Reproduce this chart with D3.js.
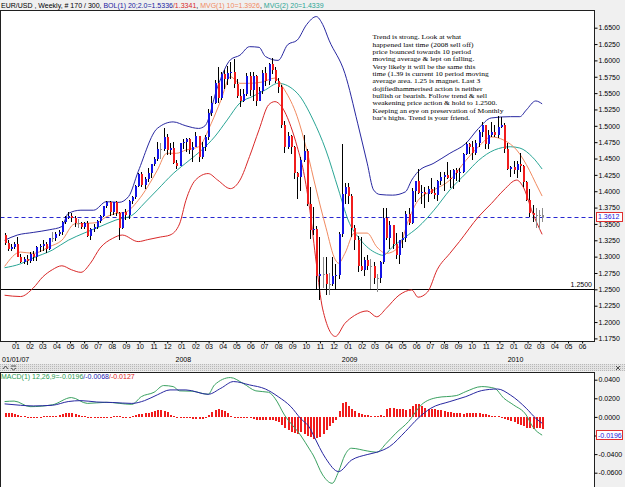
<!DOCTYPE html>
<html>
<head>
<meta charset="utf-8">
<script src="https://cdn.jsdelivr.net/npm/d3@7"></script>
<style>
  body { margin: 0; background: #f0f0f0; }
  svg { display: block; font-family: "Liberation Sans", Arial, sans-serif; }
</style>
</head>
<body>
<svg id="chart" width="625" height="487"></svg>
<script>
// EUR/USD weekly candles, Dec 2006 - Mar 2010
const firstBarDate = new Date(2006, 11, 8);   // friday of first weekly bar

const open = [1.3330,1.3210,1.3120,1.3150,1.3200,1.3000,1.2920,1.2960,1.2940,1.3040,
  1.3000,1.3140,1.3170,1.3190,1.3120,1.3280,1.3290,1.3350,1.3370,1.3530,
  1.3590,1.3620,1.3590,1.3510,1.3520,1.3450,1.3510,1.3320,1.3420,1.3460,
  1.3540,1.3620,1.3780,1.3830,1.3680,1.3830,1.3670,1.3440,1.3690,1.3640,
  1.3850,1.3910,1.4080,1.4260,1.4100,1.4180,1.4280,1.4410,1.4500,1.4640,
  1.4640,1.4830,1.4630,1.4660,1.4430,1.4390,1.4730,1.4750,1.4800,1.4630,
  1.4680,1.4840,1.4520,1.4680,1.4830,1.5190,1.5350,1.5660,1.5420,1.5790,
  1.5720,1.5810,1.5830,1.5640,1.5460,1.5380,1.5490,1.5760,1.5550,1.5760,
  1.5380,1.5530,1.5800,1.5690,1.5950,1.5860,1.5690,1.5590,1.5010,1.4680,
  1.4840,1.4680,1.4280,1.4220,1.4470,1.4620,1.3800,1.3400,1.3420,1.2700,
  1.2730,1.2740,1.2580,1.2580,1.2700,1.2720,1.3350,1.3960,1.4060,1.3920,
  1.3440,1.3260,1.2850,1.2800,1.2950,1.2860,1.2850,1.2670,1.2670,1.2920,
  1.3590,1.3290,1.3480,1.3190,1.3030,1.3250,1.3280,1.3650,1.3520,1.4000,
  1.4150,1.3970,1.3990,1.3950,1.4030,1.3970,1.3940,1.4150,1.4210,1.4250,
  1.4200,1.4180,1.4330,1.4280,1.4300,1.4570,1.4720,1.4680,1.4580,1.4730,
  1.4900,1.5010,1.4720,1.4860,1.4910,1.4860,1.4980,1.5010,1.4650,1.4340,
  1.4370,1.4320,1.4410,1.4380,1.4140,1.3860,1.3670,1.3630,1.3620,1.3630];
const high = [1.3367,1.3260,1.3200,1.3230,1.3300,1.3040,1.2990,1.3020,1.3070,1.3090,
  1.3160,1.3200,1.3250,1.3220,1.3290,1.3370,1.3370,1.3400,1.3540,1.3620,
  1.3680,1.3660,1.3620,1.3580,1.3530,1.3530,1.3540,1.3440,1.3500,1.3560,
  1.3640,1.3780,1.3850,1.3850,1.3840,1.3850,1.3690,1.3690,1.3730,1.3870,
  1.3930,1.4100,1.4280,1.4290,1.4210,1.4350,1.4420,1.4530,1.4750,1.4730,
  1.4966,1.4880,1.4740,1.4760,1.4470,1.4740,1.4800,1.4810,1.4820,1.4760,
  1.4900,1.4850,1.4750,1.4860,1.5250,1.5460,1.5700,1.5900,1.5820,1.5850,
  1.5910,1.5980,1.6019,1.5720,1.5560,1.5560,1.5810,1.5820,1.5820,1.5780,
  1.5600,1.5860,1.5900,1.5960,1.6038,1.5900,1.5730,1.5620,1.5080,1.4900,
  1.4860,1.4690,1.4300,1.4520,1.4867,1.4640,1.4060,1.3760,1.3470,1.3300,
  1.3000,1.2990,1.2750,1.3000,1.2890,1.3380,1.4720,1.4130,1.4120,1.3960,
  1.3490,1.3320,1.3300,1.3000,1.3020,1.2960,1.2920,1.2740,1.2940,1.3740,
  1.3740,1.3550,1.3480,1.3360,1.3250,1.3380,1.3700,1.3740,1.4050,1.4160,
  1.4340,1.4100,1.4070,1.4080,1.4200,1.4070,1.4170,1.4290,1.4290,1.4440,
  1.4330,1.4340,1.4350,1.4350,1.4590,1.4760,1.4740,1.4770,1.4790,1.4940,
  1.5060,1.5020,1.4940,1.5060,1.5020,1.5144,1.5140,1.5040,1.4730,1.4390,
  1.4460,1.4460,1.4580,1.4400,1.4160,1.4040,1.3790,1.3750,1.3720,1.3740];
const low = [1.3180,1.3090,1.3080,1.3110,1.2990,1.2900,1.2880,1.2866,1.2910,1.2930,
  1.2940,1.3070,1.3090,1.3050,1.3100,1.3230,1.3240,1.3310,1.3330,1.3500,
  1.3580,1.3530,1.3460,1.3440,1.3430,1.3420,1.3300,1.3260,1.3380,1.3420,
  1.3510,1.3610,1.3740,1.3620,1.3640,1.3620,1.3260,1.3420,1.3560,1.3580,
  1.3800,1.3880,1.4060,1.4070,1.4030,1.4140,1.4200,1.4380,1.4460,1.4500,
  1.4620,1.4560,1.4560,1.4420,1.4340,1.4380,1.4640,1.4600,1.4570,1.4450,
  1.4680,1.4440,1.4500,1.4610,1.4780,1.5150,1.5330,1.5350,1.5400,1.5570,
  1.5630,1.5720,1.5580,1.5430,1.5290,1.5370,1.5450,1.5460,1.5380,1.5300,
  1.5380,1.5480,1.5610,1.5630,1.5790,1.5650,1.5500,1.4960,1.4580,1.4640,
  1.4570,1.4190,1.3880,1.4000,1.4450,1.3780,1.3270,1.3330,1.2500,1.2330,
  1.2520,1.2420,1.2420,1.2550,1.2490,1.2660,1.3300,1.3810,1.3800,1.3300,
  1.3100,1.2760,1.2780,1.2710,1.2790,1.2510,1.2580,1.2456,1.2600,1.2880,
  1.3260,1.3110,1.3120,1.2970,1.2890,1.3130,1.3230,1.3480,1.3500,1.3830,
  1.3950,1.3810,1.3750,1.3830,1.3960,1.3880,1.3850,1.4100,1.4010,1.4180,
  1.4050,1.4040,1.4150,1.4140,1.4280,1.4550,1.4570,1.4480,1.4560,1.4670,
  1.4830,1.4640,1.4650,1.4830,1.4830,1.4820,1.4960,1.4580,1.4320,1.4220,
  1.4260,1.4200,1.4300,1.4060,1.3850,1.3600,1.3530,1.3440,1.3430,1.3530];
const close = [1.3210,1.3120,1.3150,1.3200,1.3000,1.2920,1.2960,1.2940,1.3040,1.3000,
  1.3140,1.3170,1.3190,1.3120,1.3280,1.3290,1.3350,1.3370,1.3530,1.3590,
  1.3620,1.3590,1.3510,1.3520,1.3450,1.3510,1.3320,1.3420,1.3460,1.3540,
  1.3620,1.3780,1.3830,1.3680,1.3830,1.3670,1.3440,1.3690,1.3640,1.3850,
  1.3910,1.4080,1.4260,1.4100,1.4180,1.4280,1.4410,1.4500,1.4640,1.4640,
  1.4830,1.4630,1.4660,1.4430,1.4390,1.4730,1.4750,1.4800,1.4630,1.4680,
  1.4840,1.4520,1.4680,1.4830,1.5190,1.5350,1.5660,1.5420,1.5790,1.5720,
  1.5810,1.5830,1.5640,1.5460,1.5380,1.5490,1.5760,1.5550,1.5760,1.5380,
  1.5530,1.5800,1.5690,1.5950,1.5860,1.5690,1.5590,1.5010,1.4680,1.4840,
  1.4680,1.4280,1.4220,1.4470,1.4620,1.3800,1.3400,1.3420,1.2700,1.2730,
  1.2740,1.2580,1.2580,1.2700,1.2720,1.3350,1.3960,1.4060,1.3920,1.3440,
  1.3260,1.2850,1.2800,1.2950,1.2860,1.2850,1.2670,1.2670,1.2920,1.3590,
  1.3290,1.3480,1.3190,1.3030,1.3250,1.3280,1.3650,1.3520,1.4000,1.4150,
  1.3970,1.3990,1.3950,1.4030,1.3970,1.3940,1.4150,1.4210,1.4250,1.4200,
  1.4180,1.4330,1.4280,1.4300,1.4570,1.4720,1.4680,1.4580,1.4730,1.4900,
  1.5010,1.4720,1.4860,1.4910,1.4860,1.4980,1.5010,1.4650,1.4340,1.4370,
  1.4320,1.4410,1.4380,1.4140,1.3860,1.3670,1.3630,1.3620,1.3630,1.3612];

// indicator lines, [bar index, value]
const bbUpper = [[0,1.325],[4,1.333],[9,1.337],[14,1.341],[18,1.346],[20,1.366],[24,1.371],[28,1.371],
  [32,1.384],[36,1.383],[39,1.392],[42,1.43],[48,1.496],[53,1.506],[57,1.50],[61,1.496],[63,1.50],
  [67,1.56],[71,1.601],[74,1.608],[77,1.621],[80,1.62],[82,1.606],[86,1.60],[89,1.624],[92,1.631],
  [95,1.655],[98,1.667],[100,1.655],[102,1.631],[107,1.58],[111,1.504],[114,1.443],[116,1.402],
  [118,1.395],[122,1.394],[126,1.399],[128,1.417],[130,1.43],[135,1.443],[140,1.458],[145,1.473],
  [149,1.496],[153,1.512],[159,1.514],[162,1.514],[164,1.524],[167,1.538],[169,1.5336]];
const bbLower = [[0,1.241],[5,1.239],[9,1.252],[12,1.269],[15,1.28],[18,1.286],[21,1.28],[24,1.276],
  [27,1.29],[30,1.313],[34,1.328],[37,1.333],[42,1.323],[45,1.326],[49,1.33],[52,1.333],[55,1.35],
  [57,1.386],[60,1.417],[64,1.427],[67,1.417],[71,1.404],[74,1.417],[77,1.453],[80,1.494],[83,1.532],
  [85,1.537],[87,1.53],[90,1.499],[92,1.468],[94,1.43],[96,1.37],[98,1.29],[100,1.22],[104,1.178],
  [107,1.198],[110,1.21],[114,1.217],[117,1.208],[120,1.221],[124,1.241],[128,1.249],[130,1.238],
  [133,1.246],[136,1.28],[140,1.305],[143,1.323],[149,1.361],[153,1.381],[157,1.402],[161,1.417],
  [163,1.407],[166,1.367],[169,1.3341]];
const ma10 = [[0,1.285],[5,1.307],[9,1.305],[14,1.315],[18,1.325],[22,1.35],[26,1.351],[29,1.352],
  [32,1.361],[35,1.366],[38,1.368],[42,1.386],[45,1.407],[48,1.432],[51,1.458],[54,1.458],[57,1.463],
  [61,1.468],[65,1.504],[68,1.539],[71,1.575],[74,1.565],[77,1.565],[81,1.567],[85,1.573],[88,1.555],
  [92,1.514],[95,1.463],[98,1.402],[101,1.345],[104,1.295],[105,1.29],[107,1.305],[110,1.336],
  [114,1.336],[117,1.315],[120,1.305],[124,1.315],[127,1.356],[130,1.386],[135,1.402],[140,1.417],
  [145,1.447],[149,1.468],[153,1.483],[157,1.478],[161,1.463],[165,1.432],[167,1.412],[169,1.3926]];
const ma20 = [[0,1.283],[5,1.289],[9,1.298],[15,1.31],[20,1.325],[25,1.336],[30,1.346],[35,1.356],
  [40,1.363],[44,1.382],[48,1.402],[53,1.427],[58,1.447],[62,1.463],[66,1.483],[70,1.509],[74,1.535],
  [78,1.545],[82,1.555],[86,1.565],[92,1.55],[97,1.509],[101,1.463],[105,1.402],[108,1.356],
  [112,1.325],[117,1.305],[119,1.302],[122,1.315],[126,1.33],[130,1.345],[135,1.371],[140,1.402],
  [145,1.427],[149,1.447],[154,1.463],[159,1.468],[162,1.466],[166,1.452],[169,1.4339]];

// MACD(12,26,9)
const macdLine = [[0,0.0165],[3,0.017],[8,0.011],[15,0.013],[21,0.0208],[26,0.0145],[32,0.0157],
  [40,0.0135],[43,0.0218],[47,0.0265],[50,0.0337],[53,0.0326],[55,0.028],[59,0.0276],[64,0.0243],
  [66,0.0344],[71,0.0423],[75,0.036],[79,0.028],[83,0.0265],[85,0.02],[88,0.002],[93,-0.0194],
  [96,-0.0355],[97,-0.041],[100,-0.0624],[103,-0.0714],[105,-0.0588],[107,-0.041],[109,-0.0337],
  [114,-0.0366],[117,-0.038],[120,-0.0284],[123,-0.0176],[127,-0.005],[131,0.0129],[136,0.0208],
  [142,0.0229],[145,0.0272],[150,0.0326],[154,0.0308],[157,0.02],[160,0.0129],[164,0.002],
  [166,-0.0104],[169,-0.0196]];
const signalLine = [[0,0.014],[5,0.0125],[9,0.0118],[15,0.0125],[20,0.0165],[24,0.0175],[29,0.016],
  [34,0.0155],[40,0.0145],[44,0.0175],[48,0.0237],[52,0.029],[57,0.029],[64,0.0243],[68,0.0308],
  [72,0.038],[77,0.0344],[82,0.030],[86,0.0218],[90,0.011],[93,-0.0015],[96,-0.0122],[97,-0.019],
  [101,-0.0448],[105,-0.0588],[109,-0.0466],[114,-0.0405],[117,-0.038],[121,-0.032],[126,-0.0158],
  [130,-0.0015],[134,0.0093],[140,0.0165],[145,0.0218],[150,0.0283],[155,0.030],[159,0.0236],
  [164,0.0093],[167,-0.0015],[169,-0.0068]];
// histogram, in thousandths
const macdHist = [4,4.5,4,3.5,2.5, 1.5,0.5,-0.5,-1,-1.2,-1,-0.5, 0.5,1,1.5,1.5,1.5,2, 3,4,4.5,4.5,3.5,
  2.5,1.5,0.5,-0.5, -1,-1.5,-1.5,-1,-1,-0.5,-0.5, 0.5,1,0.5,0.2,-0.5,-1,0.5, 2,3,3.5,4,4.5,
  5.5,6,7,7,6.5,5, 2.5,1, 0,-0.5,-1,-0.5, -1.5,-2,-2.5,-2.5,-2,-1, 2,5,7,8,7.5,6,4,
  1,-0.5,-1,-1,-1.2,-1,-1, -2,-3,-3.5,-3,-3.5,-3.5,-3,-4, -6,-9,-12,-14,-16,-17,-18,
  -16,-18,-20,-22,-24,-23,-22, -18,-14,-10,-7,-3, 6,15,16,12,9,6, 4,3,2.5,2, 1.5,1,1.5,2,1.5,
  8,10,10,9, 8,8,7,8, 12,14,14,12, 10,9,8,8,7,7, 6,5,5,4,4,4,3.5,4,4,4,4,4,3,3,
  2,1.5,1,0.5,0, -2,-3,-4, -6,-8,-9,-10,-12,-12, -13,-12,-12,-12.7];

const priceTicks = [1.65,1.625,1.6,1.575,1.55,1.525,1.5,1.475,1.45,1.425,1.4,1.375,1.35,1.325,1.3,1.275,1.25,1.225,1.2,1.175];
const macdTicks = [0.04,0.02,0,-0.02,-0.04,-0.06];
const lastPrice = 1.3612, supportLevel = 1.25, lastMacd = -0.0196;
const yearLabels = [["01/01/07", new Date(2007,0,1)], ["2008", new Date(2008,0,1)], ["2009", new Date(2009,0,1)], ["2010", new Date(2010,0,1)]];

const note = ["Trend is strong. Look at what", "happened last time (2008 sell off)",
  "price bounced towards 10 period", "moving average & lept on falling.",
  "Very likely it will be the same this", "time (1.39 is current 10 period moving",
  "average area. 1.25 is magnet. Last 3", "dojifiedhammerised action is neither",
  "bullish or bearish. Follow trend & sell", "weakening price action & hold to 1.2500.",
  "Keeping an eye on preservation of Monthly", "bar's highs. Trend is your friend."];

// layout
const frameL = 0.5, frameR = 594.5, mainTop = 10.5, mainBot = 341.5, macdTop = 372.5, macdBot = 487;

const svg = d3.select("#chart");
const dates = close.map((d, i) => d3.timeDay.offset(firstBarDate, 7 * i));

const x = d3.scaleTime()
  .domain([new Date(2007,0,1), new Date(2010,0,1)])
  .range([15.5, 513.5]);
const bx = i => x(dates[i]);
const y = d3.scaleLinear().domain([1.65, 1.175]).range([27.7, 338.4]);
const ym = d3.scaleLinear().domain([0.04, -0.06]).range([379.7, 472.7]);

// backgrounds
svg.append("rect").attr("width", 625).attr("height", 487).attr("fill", "#f0f0f0");
svg.append("rect").attr("x", frameL).attr("y", mainTop).attr("width", frameR - frameL).attr("height", mainBot - mainTop)
  .attr("fill", "#fff");
svg.append("rect").attr("x", frameL).attr("y", macdTop).attr("width", frameR - frameL).attr("height", macdBot - macdTop)
  .attr("fill", "#fff");

// separator strip
const defs = svg.append("defs");
const pat = defs.append("pattern").attr("id", "hatch").attr("width", 2).attr("height", 2).attr("patternUnits", "userSpaceOnUse");
pat.append("rect").attr("width", 2).attr("height", 2).attr("fill", "#e4e4e4");
pat.append("rect").attr("width", 1).attr("height", 1).attr("fill", "#b8b8b8");
svg.append("rect").attr("x", 0).attr("y", 364).attr("width", 625).attr("height", 7).attr("fill", "url(#hatch)");
// little window buttons on the strip
svg.append("path").attr("d", "M3,369 L5.5,366 L8,369 M11,366 L16,366 M11,368 L13.5,370 L16,368")
  .attr("fill", "none").attr("stroke", "#404040").attr("stroke-width", 0.9);
svg.append("path").attr("d", "M616,366 L620,370 M620,366 L616,370")
  .attr("fill", "none").attr("stroke", "#404040").attr("stroke-width", 0.9);

defs.append("clipPath").attr("id", "clipMain").append("rect")
  .attr("x", frameL).attr("y", mainTop).attr("width", frameR - frameL).attr("height", mainBot - mainTop);
defs.append("clipPath").attr("id", "clipMacd").append("rect")
  .attr("x", frameL).attr("y", macdTop).attr("width", frameR - frameL).attr("height", macdBot - macdTop);

const plot = svg.append("g").attr("clip-path", "url(#clipMain)");

// horizontal reference lines
plot.append("line").attr("x1", frameL).attr("x2", frameR)
  .attr("y1", Math.round(y(supportLevel)) + 0.5).attr("y2", Math.round(y(supportLevel)) + 0.5)
  .attr("stroke", "#000").attr("stroke-width", 1);
plot.append("line").attr("x1", frameL).attr("x2", frameR)
  .attr("y1", Math.round(y(lastPrice)) + 0.5).attr("y2", Math.round(y(lastPrice)) + 0.5)
  .attr("stroke", "#2828d0").attr("stroke-width", 1).attr("stroke-dasharray", "4,3");

// indicator lines
const priceLine = d3.line().x(d => bx(d[0])).y(d => y(d[1])).curve(d3.curveMonotoneX);
[[ma20, "#2aa595"], [ma10, "#f08a60"], [bbUpper, "#2828a0"], [bbLower, "#d82828"]].forEach(([data, color]) => {
  plot.append("path").datum(data).attr("d", priceLine)
    .attr("fill", "none").attr("stroke", color).attr("stroke-width", 1);
});

// candles
const candleColor = i => Math.abs(close[i] - open[i]) <= 0.002 ? "#8c8c8c" : (close[i] > open[i] ? "#1414e6" : "#f01c1c");
const candles = plot.append("g").attr("shape-rendering", "crispEdges");
close.forEach((c, i) => {
  const cx = Math.round(bx(i));
  const col = candleColor(i);
  candles.append("rect")
    .attr("x", cx).attr("width", 1)
    .attr("y", y(high[i])).attr("height", Math.max(1, y(low[i]) - y(high[i])))
    .attr("fill", col === "#8c8c8c" ? "#8c8c8c" : "#000");
  const top = y(Math.max(open[i], c)), bot = y(Math.min(open[i], c));
  candles.append("rect")
    .attr("x", cx - 0.5).attr("width", 2)
    .attr("y", top).attr("height", Math.max(1, bot - top))
    .attr("fill", col);
});

// annotation (tight leading like the original, glyphs widened a little)
const noteG = svg.append("g").attr("transform", "translate(372.5,0) scale(1.14,1)");
note.forEach((t, k) => {
  noteG.append("text").attr("x", 0).attr("y", 39.3 + k * 7.35)
    .attr("font-family", "'Liberation Serif', 'Times New Roman', serif")
    .attr("font-size", 6.6).attr("fill", "#000").text(t);
});

// level label
svg.append("text").attr("x", 592).attr("y", y(supportLevel) - 2).attr("text-anchor", "end")
  .attr("font-size", 7).attr("fill", "#000").text("1.2500");

// frames
[[mainTop, mainBot], [macdTop, macdBot + 2]].forEach(([t, b]) => {
  svg.append("rect").attr("x", frameL).attr("y", t).attr("width", frameR - frameL).attr("height", b - t)
    .attr("fill", "none").attr("stroke", "#202020").attr("stroke-width", 1);
});

// price axis
const fmt = d => d.toFixed(4);
const pAxis = svg.append("g").attr("transform", `translate(${frameR},0)`)
  .call(d3.axisRight(y).tickValues(priceTicks).tickSize(3).tickPadding(1).tickFormat(fmt));
pAxis.select(".domain").remove();
pAxis.selectAll("text").attr("font-size", 7).attr("font-family", "'Liberation Sans', Arial, sans-serif").attr("fill", "#000");
pAxis.selectAll("line").attr("stroke", "#000");

// last value boxes
function valueBox(yy, label) {
  const g = svg.append("g");
  g.append("rect").attr("x", 596.5).attr("y", Math.round(yy) - 4.5).attr("width", 26).attr("height", 9)
    .attr("fill", "#fff").attr("stroke", "#e03030").attr("stroke-width", 1);
  g.append("text").attr("x", 598).attr("y", yy + 2.5).attr("font-size", 7).attr("fill", "#1a1adc").text(label);
}
valueBox(y(lastPrice), fmt(lastPrice));

// time axis
const months = d3.timeMonth.range(new Date(2007,0,1), new Date(2010,6,1));
const tAxis = svg.append("g").attr("transform", `translate(0,${mainBot})`)
  .call(d3.axisBottom(x).tickValues(months).tickSize(2).tickPadding(1).tickFormat(d3.timeFormat("%m")));
tAxis.select(".domain").remove();
tAxis.selectAll("text").attr("font-size", 7).attr("font-family", "'Liberation Sans', Arial, sans-serif").attr("fill", "#000");
tAxis.selectAll("line").attr("stroke", "#000");
svg.append("g").selectAll("text").data(yearLabels).join("text")
  .attr("x", d => d[0].length > 4 ? 2 : x(d[1]) + 2)
  .attr("y", 362)
  .attr("text-anchor", d => d[0].length > 4 ? "start" : "middle")
  .attr("font-size", 7).attr("fill", "#000").text(d => d[0]);

// title
const title = svg.append("text").attr("x", 1).attr("y", 7.5).attr("font-size", 7);
[["EUR/USD , Weekly, # 170 / 300, ", "#000"], ["BOL(1) 20;2.0=1.5336", "#2020a0"], ["/1.3341", "#d82828"],
 [", ", "#000"], ["MVG(1) 10=1.3926", "#f08a60"], [", ", "#000"], ["MVG(2) 20=1.4339", "#2aa595"]]
  .forEach(([t, c]) => title.append("tspan").attr("fill", c).text(t));

// MACD panel
const mplot = svg.append("g").attr("clip-path", "url(#clipMacd)");
mplot.append("g").attr("shape-rendering", "crispEdges").selectAll("rect").data(macdHist).join("rect")
  .attr("x", (d, i) => Math.round(bx(i)) - 0.5)
  .attr("width", 2)
  .attr("y", d => Math.min(ym(d / 1000), ym(0)))
  .attr("height", d => Math.max(1, Math.abs(ym(d / 1000) - ym(0))))
  .attr("fill", "#f01c1c");
const macdPath = d3.line().x(d => bx(d[0])).y(d => ym(d[1])).curve(d3.curveMonotoneX);
mplot.append("path").datum(macdLine).attr("d", macdPath).attr("fill", "none").attr("stroke", "#3aa060").attr("stroke-width", 1);
mplot.append("path").datum(signalLine).attr("d", macdPath).attr("fill", "none").attr("stroke", "#2828a0").attr("stroke-width", 1);

const mAxis = svg.append("g").attr("transform", `translate(${frameR},0)`)
  .call(d3.axisRight(ym).tickValues(macdTicks).tickSize(3).tickPadding(1).tickFormat(fmt));
mAxis.select(".domain").remove();
mAxis.selectAll("text").attr("font-size", 7).attr("font-family", "'Liberation Sans', Arial, sans-serif").attr("fill", "#000");
mAxis.selectAll("line").attr("stroke", "#000");
valueBox(ym(lastMacd), fmt(lastMacd));

const mTitle = svg.append("text").attr("x", 1).attr("y", 378.5).attr("font-size", 7);
[["MACD(1) 12,26,9=-0.0196", "#2a9a50"], ["/-0.0068", "#2020b0"], ["/-0.0127", "#e02020"]]
  .forEach(([t, c]) => mTitle.append("tspan").attr("fill", c).text(t));
</script>
</body>
</html>
